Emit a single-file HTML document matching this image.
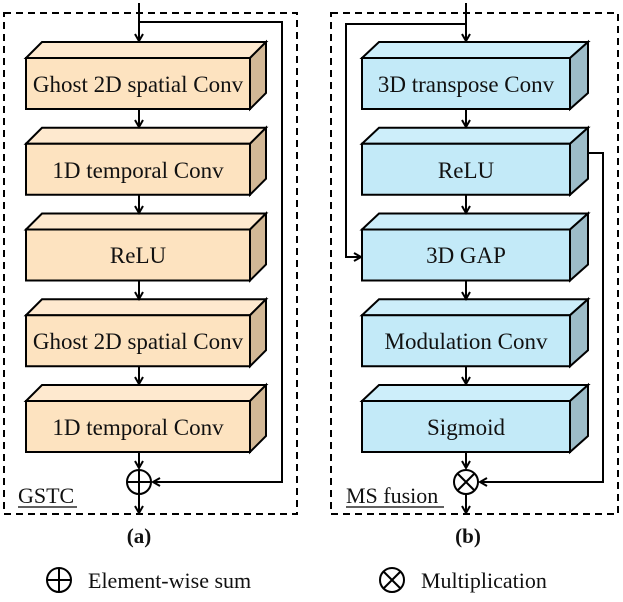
<!DOCTYPE html>
<html><head><meta charset="utf-8"><style>
html,body{margin:0;padding:0;background:#fff;}
text{font-family:"Liberation Serif",serif;fill:#111;}
</style></head><body>
<svg width="623" height="597" viewBox="0 0 623 597" xmlns="http://www.w3.org/2000/svg">
<defs>
<marker id="ar" markerWidth="10" markerHeight="10" refX="8" refY="5" orient="auto" markerUnits="userSpaceOnUse">
<path d="M1,1 L8,5 L1,9" fill="none" stroke="#000" stroke-width="2"/>
</marker>
</defs>
<g fill="none" stroke="#000" stroke-width="2" stroke-dasharray="7,5">
<rect x="4" y="13" width="293" height="501"/>
<rect x="331" y="13" width="287" height="501"/>
</g>
<g stroke="#000" stroke-width="2">
<g transform="translate(0,0)">
<polygon points="26,58 42,42 266,42 250,58" fill="#fee9cf"/><polygon points="250,58 266,42 266,93 250,109" fill="#d2b896"/><rect x="26" y="58" width="224" height="51" fill="#fde3c0"/>
</g>
<g transform="translate(0,85.75)">
<polygon points="26,58 42,42 266,42 250,58" fill="#fee9cf"/><polygon points="250,58 266,42 266,93 250,109" fill="#d2b896"/><rect x="26" y="58" width="224" height="51" fill="#fde3c0"/>
</g>
<g transform="translate(0,171.5)">
<polygon points="26,58 42,42 266,42 250,58" fill="#fee9cf"/><polygon points="250,58 266,42 266,93 250,109" fill="#d2b896"/><rect x="26" y="58" width="224" height="51" fill="#fde3c0"/>
</g>
<g transform="translate(0,257.25)">
<polygon points="26,58 42,42 266,42 250,58" fill="#fee9cf"/><polygon points="250,58 266,42 266,93 250,109" fill="#d2b896"/><rect x="26" y="58" width="224" height="51" fill="#fde3c0"/>
</g>
<g transform="translate(0,343)">
<polygon points="26,58 42,42 266,42 250,58" fill="#fee9cf"/><polygon points="250,58 266,42 266,93 250,109" fill="#d2b896"/><rect x="26" y="58" width="224" height="51" fill="#fde3c0"/>
</g>
<g transform="translate(0,0)">
<polygon points="362,58 379,42 588,42 570,58" fill="#cdeefa"/><polygon points="570,58 588,42 588,93 570,109" fill="#9dbcc8"/><rect x="362" y="58" width="208" height="51" fill="#c3eaf8"/>
</g>
<g transform="translate(0,85.75)">
<polygon points="362,58 379,42 588,42 570,58" fill="#cdeefa"/><polygon points="570,58 588,42 588,93 570,109" fill="#9dbcc8"/><rect x="362" y="58" width="208" height="51" fill="#c3eaf8"/>
</g>
<g transform="translate(0,171.5)">
<polygon points="362,58 379,42 588,42 570,58" fill="#cdeefa"/><polygon points="570,58 588,42 588,93 570,109" fill="#9dbcc8"/><rect x="362" y="58" width="208" height="51" fill="#c3eaf8"/>
</g>
<g transform="translate(0,257.25)">
<polygon points="362,58 379,42 588,42 570,58" fill="#cdeefa"/><polygon points="570,58 588,42 588,93 570,109" fill="#9dbcc8"/><rect x="362" y="58" width="208" height="51" fill="#c3eaf8"/>
</g>
<g transform="translate(0,343)">
<polygon points="362,58 379,42 588,42 570,58" fill="#cdeefa"/><polygon points="570,58 588,42 588,93 570,109" fill="#9dbcc8"/><rect x="362" y="58" width="208" height="51" fill="#c3eaf8"/>
</g>
</g>
<g fill="none" stroke="#000" stroke-width="2">
<line x1="139" y1="3" x2="139" y2="41" marker-end="url(#ar)"/>
<polyline points="139,22 282,22 282,482 153,482" marker-end="url(#ar)"/>
<line x1="139" y1="109" x2="139" y2="127" marker-end="url(#ar)"/>
<line x1="139" y1="195" x2="139" y2="213" marker-end="url(#ar)"/>
<line x1="139" y1="281" x2="139" y2="299" marker-end="url(#ar)"/>
<line x1="139" y1="366" x2="139" y2="384" marker-end="url(#ar)"/>
<line x1="139" y1="452" x2="139" y2="468" marker-end="url(#ar)"/>
<circle cx="139" cy="482" r="12"/>
<line x1="127" y1="482" x2="151" y2="482"/><line x1="139" y1="470" x2="139" y2="494"/>
<line x1="139" y1="494" x2="139" y2="513" marker-end="url(#ar)"/>
<line x1="466" y1="3" x2="466" y2="41" marker-end="url(#ar)"/>
<polyline points="466,24 346,24 346,257 361,257" marker-end="url(#ar)"/>
<line x1="466" y1="109" x2="466" y2="127" marker-end="url(#ar)"/>
<line x1="466" y1="195" x2="466" y2="213" marker-end="url(#ar)"/>
<line x1="466" y1="281" x2="466" y2="299" marker-end="url(#ar)"/>
<line x1="466" y1="366" x2="466" y2="384" marker-end="url(#ar)"/>
<line x1="466" y1="452" x2="466" y2="468" marker-end="url(#ar)"/>
<polyline points="588,153 603,153 603,482 480,482" marker-end="url(#ar)"/>
<circle cx="466" cy="482" r="12"/>
<line x1="457.5" y1="473.5" x2="474.5" y2="490.5"/><line x1="474.5" y1="473.5" x2="457.5" y2="490.5"/>
<line x1="466" y1="494" x2="466" y2="513" marker-end="url(#ar)"/>
<circle cx="59" cy="580" r="12"/>
<line x1="47" y1="580" x2="71" y2="580"/><line x1="59" y1="568" x2="59" y2="592"/>
<circle cx="392" cy="580" r="12"/>
<line x1="383.5" y1="571.5" x2="400.5" y2="588.5"/><line x1="400.5" y1="571.5" x2="383.5" y2="588.5"/>
</g>
<g font-size="23" text-anchor="middle">
<text x="138" y="92">Ghost 2D spatial Conv</text>
<text x="138" y="178">1D temporal Conv</text>
<text x="138" y="263">ReLU</text>
<text x="138" y="349">Ghost 2D spatial Conv</text>
<text x="138" y="435">1D temporal Conv</text>
<text x="466" y="92">3D transpose Conv</text>
<text x="466" y="178">ReLU</text>
<text x="466" y="263">3D GAP</text>
<text x="466" y="349">Modulation Conv</text>
<text x="466" y="435">Sigmoid</text>
<text x="139" y="543" font-weight="bold" font-size="21">(a)</text>
<text x="468" y="543" font-weight="bold" font-size="21">(b)</text>
</g>
<g font-size="22">
<text x="18" y="503">GSTC</text>
<line x1="18" y1="507" x2="77" y2="507" stroke="#000" stroke-width="1.2"/>
<text x="346" y="503">MS fusion</text>
<line x1="346" y1="507" x2="444" y2="507" stroke="#000" stroke-width="1.2"/>
<text x="88" y="588">Element-wise sum</text>
<text x="421" y="588">Multiplication</text>
</g>
</svg>
</body></html>
